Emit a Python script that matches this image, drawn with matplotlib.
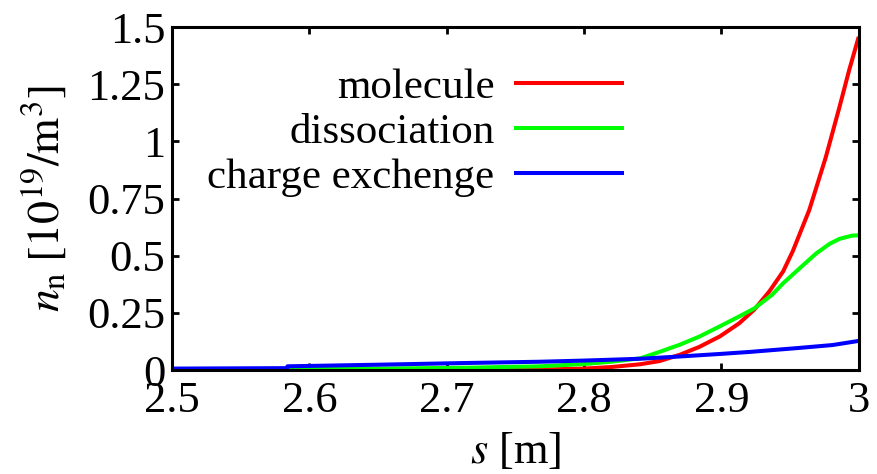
import numpy as np
import matplotlib
matplotlib.use("Agg")
import matplotlib.pyplot as plt
from matplotlib.ticker import MultipleLocator, FormatStrFormatter

# ── data ──────────────────────────────────────────────────────────────────────
s_mol = [2.584, 2.65, 2.72, 2.768, 2.80, 2.82, 2.841, 2.855, 2.870, 2.884, 2.899,
         2.913, 2.924, 2.935, 2.945, 2.952, 2.964, 2.976, 2.986, 2.993, 3.0]
n_mol = [0.0, 0.001, 0.002, 0.003, 0.007, 0.014, 0.026, 0.040, 0.068, 0.102, 0.148,
         0.205, 0.265, 0.345, 0.432, 0.52, 0.70, 0.93, 1.15, 1.31, 1.457]

s_dis = [2.5, 2.584, 2.584, 2.65, 2.717, 2.768, 2.80, 2.82, 2.841, 2.855, 2.870,
         2.884, 2.899, 2.913, 2.924, 2.937, 2.945, 2.956, 2.969, 2.979, 2.986,
         2.995, 3.0]
n_dis = [0.002, 0.002, 0.004, 0.007, 0.011, 0.017, 0.027, 0.037, 0.052, 0.08, 0.112,
         0.147, 0.192, 0.235, 0.27, 0.33, 0.38, 0.44, 0.51, 0.553, 0.574,
         0.588, 0.59]

s_cx = [2.5, 2.584, 2.584, 2.65, 2.71, 2.768, 2.80, 2.841, 2.870, 2.899, 2.921,
        2.956, 2.981, 3.0]
n_cx = [0.007, 0.009, 0.017, 0.024, 0.031, 0.037, 0.042, 0.05, 0.06, 0.071, 0.08,
        0.097, 0.11, 0.128]

labels = ["molecule", "dissociation", "charge exchenge"]
colors = ["#ff0000", "#00ff00", "#0000ff"]

# ── style ─────────────────────────────────────────────────────────────────────
plt.rcParams["font.family"] = ["Liberation Serif", "DejaVu Serif"]
plt.rcParams["mathtext.fontset"] = "stix"

fig = plt.figure(figsize=(8.78, 4.74), dpi=100)
ax = fig.add_axes([0.196, 0.219, 0.782, 0.724])

handles = []
for s, n, c, lab in zip([s_mol, s_dis, s_cx], [n_mol, n_dis, n_cx], colors, labels):
    h, = ax.plot(s, n, color=c, lw=2.9, label=lab, solid_capstyle="butt")
    handles.append(h)

ax.set_xlim(2.5, 3.0)
ax.set_ylim(0, 1.5)
ax.xaxis.set_major_locator(MultipleLocator(0.1))
ax.yaxis.set_major_locator(MultipleLocator(0.25))
ax.xaxis.set_major_formatter(FormatStrFormatter("%g"))
ax.yaxis.set_major_formatter(FormatStrFormatter("%g"))
ax.tick_params(direction="in", length=5, width=2, top=True, right=True,
               labelsize=32)
ax.tick_params(axis="y", pad=5)
ax.tick_params(axis="x", pad=8)
for sp in ax.spines.values():
    sp.set_linewidth(2.2)

ax.set_xlabel(r"$s$ [m]", fontsize=32, labelpad=7)
ax.set_ylabel(r"$n_{\mathrm{n}}\;\left[10^{19}/\mathrm{m}^{3}\right]$",
              fontsize=33, labelpad=13)

ax.legend(handles, labels, loc="upper right", bbox_to_anchor=(0.658, 0.88),
          frameon=False, markerfirst=False, handlelength=2.56,
          handletextpad=0.45, labelspacing=0.135, borderpad=0,
          borderaxespad=0, fontsize=31)

fig.savefig("out.png", dpi=100)
